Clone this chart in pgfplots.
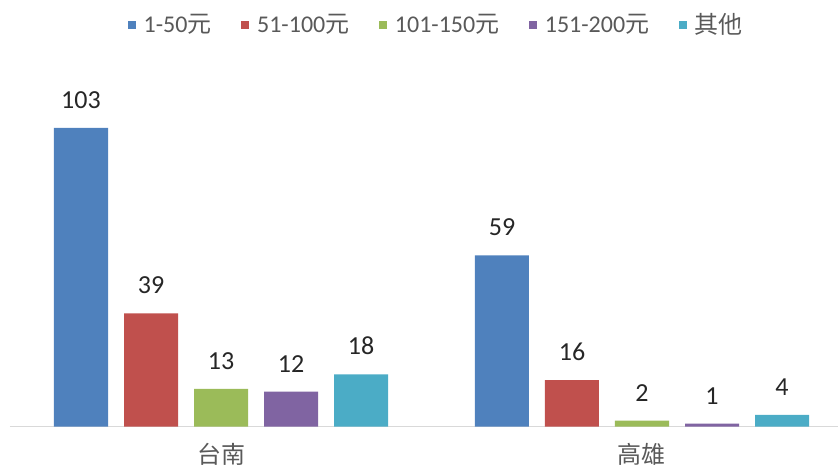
\documentclass[border=0pt]{standalone}
\usepackage{fontspec}
\setmainfont{Carlito}
\newfontfamily\cjk{Noto Sans CJK TC}
\usepackage{pgfplots}
\pgfplotsset{compat=1.18}
\definecolor{c1}{HTML}{4F81BD}
\definecolor{c2}{HTML}{C0504D}
\definecolor{c3}{HTML}{9BBB59}
\definecolor{c4}{HTML}{8064A2}
\definecolor{c5}{HTML}{4BACC6}
\definecolor{labgray}{HTML}{595959}
\definecolor{axgray}{HTML}{D9D9D9}
\begin{document}
\begin{tikzpicture}
\useasboundingbox (0,0) rectangle (419pt,234pt);
\begin{axis}[
  at={(5pt,20.75pt)}, anchor=south west,
  scale only axis, width=414pt, height=182.7pt,
  ybar=8pt, bar width=27pt,
  xmin=-0.5012, xmax=1.4656, ymin=0, ymax=126,
  axis y line=none, axis x line*=bottom,
  x axis line style={draw=axgray, line width=0.8pt, -},
  xtick={0,1}, xticklabels={{\cjk 台南},{\cjk 高雄}}, major tick length=0pt,
  xticklabel style={font=\fontsize{12}{14}\selectfont, text=labgray, inner sep=0pt, anchor=north, yshift=-8.3pt},
  /pgf/number format/assume math mode=true,
  nodes near coords,
  every node near coord/.append style={font=\fontsize{13}{15}\selectfont, text=black!85, anchor=south, inner sep=0pt, yshift=9.5pt},
  legend columns=5,
  legend style={draw=none, fill=none, at={(0.516,1.100)}, anchor=center,
    font=\fontsize{12}{14}\selectfont, text=labgray,
    /tikz/every odd column/.append style={column sep=2pt},
    /tikz/every even column/.append style={column sep=12.8pt}},
  legend image code/.code={\fill[#1] (0pt,-2pt) rectangle (4pt,2pt);},
  clip=false,
]
\addplot[fill=c1, draw=none] coordinates {(0,103) (1,59)};
\addlegendentry{1-50{\cjk 元}}
\addplot[fill=c2, draw=none] coordinates {(0,39) (1,16)};
\addlegendentry{51-100{\cjk 元}}
\addplot[fill=c3, draw=none] coordinates {(0,13) (1,2)};
\addlegendentry{101-150{\cjk 元}}
\addplot[fill=c4, draw=none] coordinates {(0,12) (1,1)};
\addlegendentry{151-200{\cjk 元}}
\addplot[fill=c5, draw=none] coordinates {(0,18) (1,4)};
\addlegendentry{{\cjk 其他}}
\end{axis}
\end{tikzpicture}
\end{document}
